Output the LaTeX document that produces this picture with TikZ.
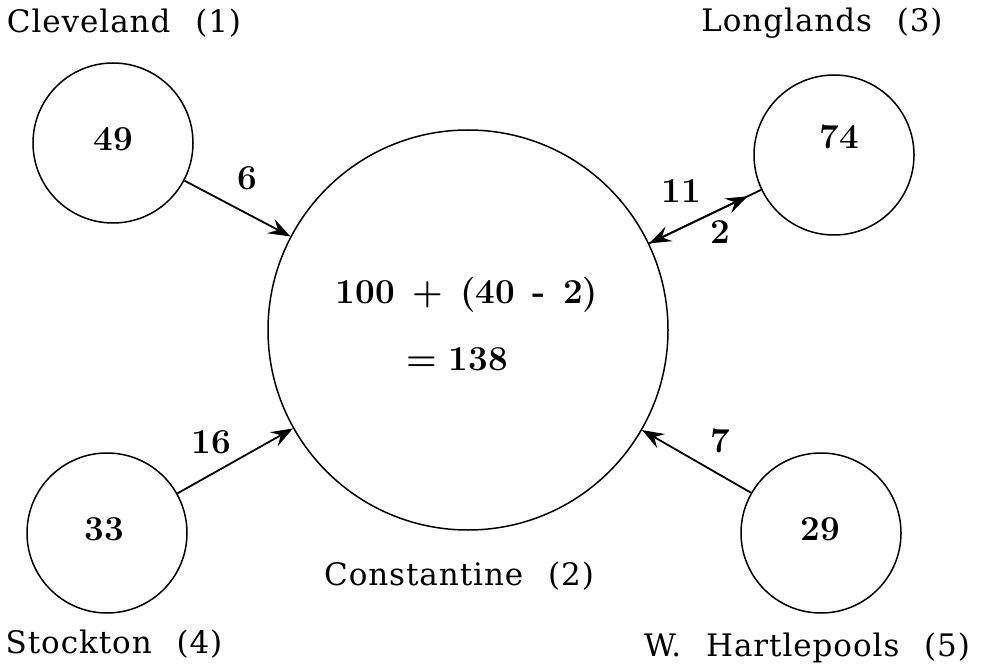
\documentclass[tikz,border=0pt]{standalone}
\usepackage{fontspec}
\newfontfamily\labfont{DejaVu Serif}[LetterSpace=3]
\usetikzlibrary{arrows.meta,calc}
\newcommand{\gap}{\hspace{0.8em}}
\newcommand{\ngap}{\hspace{0.5em}}
\tikzset{
  town/.style={circle, draw, line width=1.5pt, minimum size=160pt, inner sep=0pt},
  hub/.style={circle, draw, line width=1.5pt, minimum size=400pt, inner sep=0pt},
  lab/.style={font=\fontsize{31}{33}\selectfont\labfont, inner sep=0pt, anchor=base},
  num/.style={font=\fontsize{35}{37}\selectfont\bfseries, inner sep=0pt},
  flow/.style={line width=1.8pt, -{Stealth[length=22pt,width=16pt,inset=8pt]}},
}
\begin{document}
\begin{tikzpicture}[x=1pt,y=-1pt]
\useasboundingbox (0,0) rectangle (990,668);
\node[town] (clev) at (113,143) {};
\node[town] (long) at (834,155) {};
\node[town] (stock) at (107,533) {};
\node[town] (hart) at (821,533) {};
\node[hub] (cons) at (468,330) {};

\node[num] (n49) at (113,139) {49};
\node[num] (n74) at (839,137) {74};
\node[num] (n33) at (104,529) {33};
\node[num] (n29) at (820,529) {29};

\node[num, anchor=base] (sum) at (467,303) {100\ngap+\ngap(40\ngap-\ngap2)};
\node[num, anchor=base] (res) at (457,370) {=\hspace{0.35em}138};

\node[lab] (lclev) at (124,33) {Cleveland\gap(1)};
\node[lab] (llong) at (822,32) {Longlands\gap(3)};
\node[lab] (lstock) at (114,653) {Stockton\gap(4)};
\node[lab] (lhart) at (807,656) {W.\gap Hartlepools\gap(5)};
\node[lab] (lcons) at (459,585) {Constantine\gap(2)};

\draw[flow] (clev) -- (cons);
\draw[flow] (stock) -- (cons);
\draw[flow] (hart) -- (cons);
\draw[flow] (long) -- (cons);
\path (cons) -- coordinate[pos=0.88] (mid) (long);
\draw[flow] (cons) -- (mid);

\node[num] (e6) at (247,178) {6};
\node[num] (e16) at (211,442) {16};
\node[num] (e7) at (720,441) {7};
\node[num] (e11) at (681,191) {11};
\node[num] (e2) at (720,232) {2};
\end{tikzpicture}
\end{document}
